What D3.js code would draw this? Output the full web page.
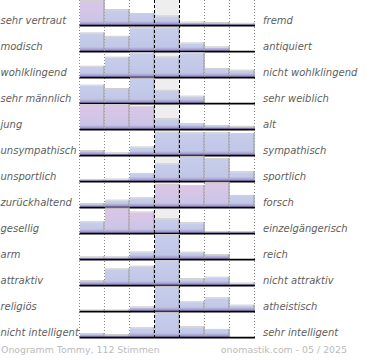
<!DOCTYPE html>
<html><head><meta charset="utf-8">
<script src="https://cdn.jsdelivr.net/npm/d3@7"></script>
<style>body{margin:0;background:#fff}svg{display:block}</style>
</head><body>
<script>
const leftLabels = ["sehr vertraut","modisch","wohlklingend","sehr männlich","jung","unsympathisch","unsportlich","zurückhaltend","gesellig","arm","attraktiv","religiös","nicht intelligent"];
const rightLabels = ["fremd","antiquiert","nicht wohlklingend","sehr weiblich","alt","sympathisch","sportlich","forsch","einzelgängerisch","reich","nicht attraktiv","atheistisch","sehr intelligent"];
const values = [
  [98,61,45,35,10,8,5],
  [72,58,93,93,31,15,0],
  [42,79,97,80,97,33,26],
  [71,57,100,50,26,0,0],
  [98,98,91,40,20,12,9],
  [16,7,31,91,89,89,86],
  [4,6,29,68,99,90,36],
  [12,26,36,90,86,99,45],
  [44,100,84,56,40,4,4],
  [7,7,27,98,26,16,0],
  [16,64,75,98,24,30,6],
  [2,2,15,99,36,52,22],
  [12,8,36,99,40,29,0]
];
const pink = [
  [1,0,0,0,0,0,0],[0,0,0,0,0,0,0],[0,0,0,0,0,0,0],[0,0,0,0,0,0,0],
  [1,1,1,0,0,0,0],[0,0,0,0,0,0,0],[0,0,0,0,0,0,0],[0,0,0,1,1,1,0],
  [0,1,1,0,0,0,0],[0,0,0,0,0,0,0],[0,0,0,0,0,0,0],[0,0,0,0,0,0,0],[0,0,0,0,0,0,0]
];
const footerLeft = "Onogramm Tommy, 112 Stimmen";
const footerRight = "onomastik.com - 05 / 2025";

(function(){
const W = 370, H = 360;
const svg = d3.select("body").append("svg").attr("width", W).attr("height", H);
const defs = svg.append("defs");
function grad(id, c0, c1) {
  const g = defs.append("linearGradient").attr("id", id).attr("x1",0).attr("y1",0).attr("x2",0).attr("y2",1);
  g.append("stop").attr("offset","0%").attr("stop-color",c0);
  g.append("stop").attr("offset","100%").attr("stop-color",c1);
}
grad("gBlue", "#c7ceeb", "#bfc4e6");
grad("gPink", "#ddc5e6", "#c6c6e7");
const gb = defs.append("linearGradient").attr("id","gBot").attr("x1",0).attr("y1",0).attr("x2",0).attr("y2",1);
gb.append("stop").attr("offset","0%").attr("stop-color","#9a8cc6").attr("stop-opacity",0);
gb.append("stop").attr("offset","100%").attr("stop-color","#8f7fc0").attr("stop-opacity",1);

const cols = d3.range(7);
const x = d3.scaleBand().domain(cols).range([79.5, 254.5]);
const rowStep = 26, firstBase = 25;
const rows = d3.scaleLinear().domain([0, 1]).range([firstBase, firstBase + rowStep]);
const h = d3.scaleLinear().domain([0, 100]).range([0, 24.5]);
const yTop = 0, yBottom = rows(leftLabels.length - 1) + 1;

svg.append("rect").attr("x", x(3)).attr("y", yTop).attr("width", x.bandwidth()).attr("height", yBottom - yTop).attr("fill", "#eeeeee");

const edges = d3.range(8).map(k => 79.5 + 25 * k);
svg.selectAll(".dot").data(edges.filter((e,i)=> i!==3 && i!==4)).enter().append("line")
  .attr("x1", d=>d).attr("x2", d=>d).attr("y1", yTop).attr("y2", yBottom)
  .attr("stroke", "#888").attr("stroke-width", 1).attr("stroke-dasharray", "1,2");

leftLabels.forEach((lab, r) => {
  const base = rows(r);
  const g = svg.append("g");
  values[r].forEach((v, c) => {
    if (v <= 0) return;
    const bh = h(v);
    const x0 = x(c) + 0.5, x1 = x(c) + x.bandwidth();
    g.append("rect").attr("x", x0).attr("y", base - bh).attr("width", x1 - x0).attr("height", bh)
      .attr("fill", pink[r][c] ? "url(#gPink)" : "url(#gBlue)");
    const sb = Math.min(bh, 4);
    g.append("rect").attr("x", x0).attr("y", base - sb).attr("width", x1 - x0).attr("height", sb)
      .attr("fill", "url(#gBot)");
    g.append("line").attr("x1", x0).attr("x2", x1).attr("y1", base - bh - 0.5).attr("y2", base - bh - 0.5)
      .attr("stroke", "#cfcfcf").attr("stroke-width", 1);
    g.append("line").attr("x1", x1 - 0.5).attr("x2", x1 - 0.5).attr("y1", base - bh - 1).attr("y2", base)
      .attr("stroke", "#999").attr("stroke-width", 1);
  });
  g.append("line").attr("x1", 79.5).attr("x2", 255).attr("y1", base + 0.6).attr("y2", base + 0.6)
    .attr("stroke", "#000").attr("stroke-width", 1.6);
  svg.append("text").attr("x", 0.5).attr("y", base - 1.2).text(lab)
    .attr("font-family", "DejaVu Sans").attr("font-style", "italic").attr("font-size", 10).attr("fill", "#5e5e5e");
  svg.append("text").attr("x", 263).attr("y", base - 1.2).text(rightLabels[r])
    .attr("font-family", "DejaVu Sans").attr("font-style", "italic").attr("font-size", 10).attr("fill", "#5e5e5e");
});

svg.selectAll(".dash").data([edges[3], edges[4]]).enter().append("line")
  .attr("x1", d=>d).attr("x2", d=>d).attr("y1", yTop).attr("y2", yBottom)
  .attr("stroke", "#000").attr("stroke-width", 1).attr("stroke-dasharray", "3,2");

svg.append("text").attr("x", 1).attr("y", 353).text(footerLeft)
  .attr("font-family", "DejaVu Sans").attr("font-size", 9.4).attr("fill", "#bbb");
svg.append("text").attr("x", 347).attr("y", 353).attr("text-anchor", "end").text(footerRight)
  .attr("font-family", "DejaVu Sans").attr("font-size", 9.4).attr("fill", "#bbb");
})();
</script>
</body></html>
